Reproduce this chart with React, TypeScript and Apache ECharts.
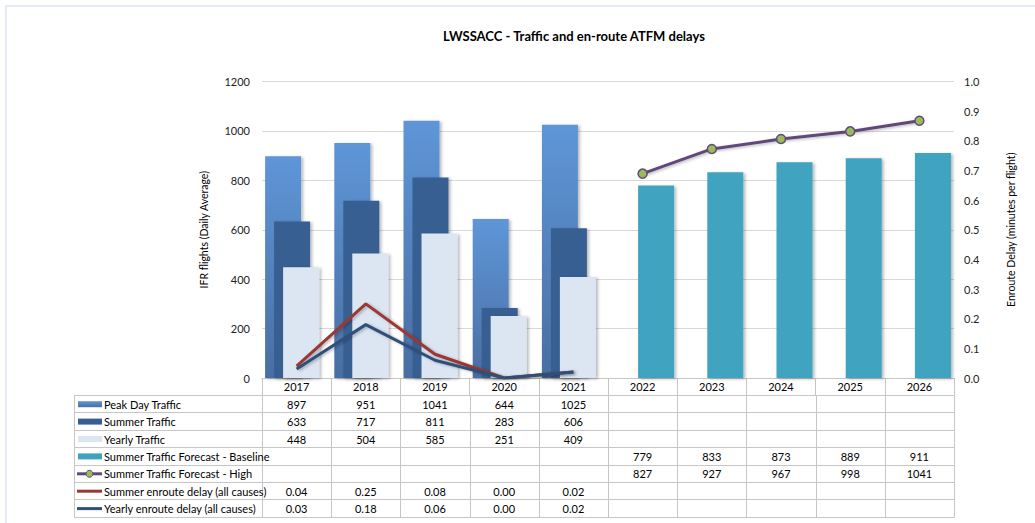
import React, { useEffect, useRef } from "react";
import * as echarts from "echarts";

const years = ["2017", "2018", "2019", "2020", "2021", "2022", "2023", "2024", "2025", "2026"];
const peakDay = [897, 951, 1041, 644, 1025, null, null, null, null, null];
const summerTraffic = [633, 717, 811, 283, 606, null, null, null, null, null];
const yearlyTraffic = [448, 504, 585, 251, 409, null, null, null, null, null];
const forecastBaseline = [null, null, null, null, null, 779, 833, 873, 889, 911];
const forecastHigh = [null, null, null, null, null, 827, 927, 967, 998, 1041];
const summerDelay = [0.04, 0.25, 0.08, 0.0, 0.02, null, null, null, null, null];
const yearlyDelay = [0.03, 0.18, 0.06, 0.0, 0.02, null, null, null, null, null];
const leftTicks = { min: 0, max: 1200, interval: 200 };
const rightTicks = { min: 0, max: 1, interval: 0.1 };

const FONT = "Lato, 'Liberation Sans', sans-serif";
const GRID_LEFT = 262;
const GRID_RIGHT = 81;
const GRID_TOP = 81.5;
const GRID_BOTTOM = 145;
const W = 1035;
const H = 523;
const TABLE_LEFT = 74;
const ROW_H = 17.4;
const HEADER_H = 17;
const LINE_COLOR = "#c6c6c6";

const C_PEAK_TOP = "#5e96d8";
const C_PEAK_BOT = "#4a6ea2";
const C_SUMMER = "#375f92";
const C_YEARLY = "#dce6f2";
const C_BASE = "#3fa3bf";
const C_HIGH = "#60497a";
const C_HIGH_DOT = "#9bbb59";
const C_SDELAY = "#9b3733";
const C_YDELAY = "#2f5079";

const shadow = {
  shadowColor: "rgba(0,0,0,0.28)",
  shadowBlur: 3,
  shadowOffsetX: 2,
  shadowOffsetY: 1,
};

export default function App() {
  const ref = useRef<HTMLDivElement>(null);
  useEffect(() => {
    document.body.style.margin = "0";
    if (!ref.current) return;
    const chart = echarts.init(ref.current, null, { renderer: "svg" });
    const peakGrad = new echarts.graphic.LinearGradient(0, 0, 0, 1, [
      { offset: 0, color: C_PEAK_TOP },
      { offset: 1, color: C_PEAK_BOT },
    ]);
    const barCommon = { type: "bar", barWidth: 36, barGap: "-75%", yAxisIndex: 0 };
    const option: any = {
      animation: false,
      title: {
        text: "LWSSACC - Traffic and en-route ATFM delays",
        left: 569,
        top: 24,
        textAlign: "center",
        textStyle: { fontFamily: FONT, fontSize: 13, fontWeight: "bold", color: "#000" },
      },
      grid: { left: GRID_LEFT, right: GRID_RIGHT, top: GRID_TOP, bottom: GRID_BOTTOM },
      xAxis: {
        type: "category",
        data: years,
        axisLine: { show: true, lineStyle: { color: LINE_COLOR, width: 1 } },
        axisTick: { show: true, length: HEADER_H, lineStyle: { color: LINE_COLOR } },
        axisLabel: { margin: 3, fontFamily: FONT, fontSize: 11, color: "#000" },
      },
      yAxis: [
        {
          type: "value",
          ...leftTicks,
          name: "IFR flights (Daily Average)",
          nameLocation: "middle",
          nameGap: 53,
          nameTextStyle: { fontFamily: FONT, fontSize: 10.5, color: "#000" },
          axisLine: { show: false },
          axisTick: { show: false },
          axisLabel: {
            margin: 12,
            fontFamily: FONT,
            fontSize: 11,
            color: "#222",
            formatter: (v: number) => String(v),
          },
          splitLine: { lineStyle: { color: "#d9d9d9", width: 1 } },
        },
        {
          type: "value",
          ...rightTicks,
          position: "right",
          name: "Enroute Delay (minutes per flight)",
          nameLocation: "middle",
          nameGap: 51,
          nameTextStyle: { fontFamily: FONT, fontSize: 10.5, color: "#000" },
          axisLine: { show: false },
          axisTick: { show: false },
          axisLabel: {
            margin: 10,
            fontFamily: FONT,
            fontSize: 11,
            color: "#222",
            formatter: (v: number) => v.toFixed(1),
          },
          splitLine: { show: false },
        },
      ],
      series: [
        { ...barCommon, name: "Peak Day Traffic", data: peakDay, itemStyle: { color: peakGrad, ...shadow } },
        { ...barCommon, name: "Summer Traffic", data: summerTraffic, itemStyle: { color: C_SUMMER, ...shadow } },
        { ...barCommon, name: "Yearly Traffic", data: yearlyTraffic, itemStyle: { color: C_YEARLY, ...shadow } },
        {
          ...barCommon,
          name: "Summer Traffic Forecast - Baseline",
          data: forecastBaseline,
          itemStyle: { color: C_BASE, ...shadow },
        },
        {
          type: "line",
          name: "Summer Traffic Forecast - High",
          yAxisIndex: 0,
          data: forecastHigh,
          symbol: "circle",
          symbolSize: 9,
          lineStyle: { color: C_HIGH, width: 3, ...shadow },
          itemStyle: { color: C_HIGH_DOT, borderColor: C_HIGH, borderWidth: 1.5 },
          z: 5,
        },
        {
          type: "line",
          name: "Summer enroute delay (all causes)",
          yAxisIndex: 1,
          data: summerDelay,
          showSymbol: false,
          symbol: "none",
          lineStyle: { color: C_SDELAY, width: 3, ...shadow },
          z: 5,
        },
        {
          type: "line",
          name: "Yearly enroute delay (all causes)",
          yAxisIndex: 1,
          data: yearlyDelay,
          showSymbol: false,
          symbol: "none",
          lineStyle: { color: C_YDELAY, width: 3, ...shadow },
          z: 6,
        },
      ],
    };
    chart.setOption(option);

    // Data table below the chart, built from the same arrays
    const fmtInt = (v: number | null) => (v == null ? "" : String(v));
    const fmtDec = (v: number | null) => (v == null ? "" : v.toFixed(2));
    const rows = [
      { label: "Peak Day Traffic", data: peakDay, fmt: fmtInt, key: "bar", color: peakGrad },
      { label: "Summer Traffic", data: summerTraffic, fmt: fmtInt, key: "bar", color: C_SUMMER },
      { label: "Yearly Traffic", data: yearlyTraffic, fmt: fmtInt, key: "bar", color: C_YEARLY },
      { label: "Summer Traffic Forecast - Baseline", data: forecastBaseline, fmt: fmtInt, key: "bar", color: C_BASE },
      { label: "Summer Traffic Forecast - High", data: forecastHigh, fmt: fmtInt, key: "dot", color: C_HIGH },
      { label: "Summer enroute delay (all causes)", data: summerDelay, fmt: fmtDec, key: "line", color: C_SDELAY },
      { label: "Yearly enroute delay (all causes)", data: yearlyDelay, fmt: fmtDec, key: "line", color: C_YDELAY },
    ];
    const centers = years.map((_, i) => chart.convertToPixel({ xAxisIndex: 0 }, i) as number);
    const axisY = chart.convertToPixel({ yAxisIndex: 0 }, 0) as number;
    const band = centers.length > 1 ? centers[1] - centers[0] : 60;
    const tableRight = W - GRID_RIGHT;
    const top = axisY + HEADER_H;
    const els: any[] = [];
    // outer chart border
    els.push({
      type: "rect",
      shape: { x: 6, y: 6, width: W + 10, height: H + 10 },
      style: { fill: "none", stroke: "#dbe5f1", lineWidth: 1.5 },
      silent: true,
    });
    for (let r = 0; r <= rows.length; r++) {
      const y = Math.round(top + r * ROW_H) + 0.5;
      els.push({
        type: "line",
        shape: { x1: TABLE_LEFT, y1: y, x2: tableRight, y2: y },
        style: { stroke: LINE_COLOR, lineWidth: 1 },
        silent: true,
      });
    }
    const bottomY = Math.round(top + rows.length * ROW_H) + 0.5;
    const vx = [TABLE_LEFT, ...years.map((_, i) => centers[i] - band / 2), tableRight];
    vx.forEach((x) => {
      const xx = Math.round(x) + 0.5;
      els.push({
        type: "line",
        shape: { x1: xx, y1: Math.round(top) + 0.5, x2: xx, y2: bottomY },
        style: { stroke: LINE_COLOR, lineWidth: 1 },
        silent: true,
      });
    });
    rows.forEach((row, r) => {
      const cy = top + r * ROW_H + ROW_H / 2 + 0.5;
      if (row.key === "bar") {
        els.push({
          type: "rect",
          shape: { x: 78, y: cy - 3, width: 24, height: 6 },
          style: { fill: row.color },
          silent: true,
        });
      } else {
        els.push({
          type: "line",
          shape: { x1: 77, y1: cy, x2: 102, y2: cy },
          style: { stroke: row.color, lineWidth: 3 },
          silent: true,
        });
        if (row.key === "dot") {
          els.push({
            type: "circle",
            shape: { cx: 89.5, cy, r: 3.5 },
            style: { fill: C_HIGH_DOT, stroke: C_HIGH, lineWidth: 1 },
            silent: true,
          });
        }
      }
      els.push({
        type: "text",
        x: 104,
        y: cy,
        style: {
          text: row.label,
          font: `11px ${FONT}`,
          fill: "#000",
          textVerticalAlign: "middle",
          verticalAlign: "middle",
        },
        silent: true,
      });
      row.data.forEach((v: number | null, i: number) => {
        const t = row.fmt(v);
        if (!t) return;
        els.push({
          type: "text",
          x: centers[i],
          y: cy,
          style: {
            text: t,
            font: `11px ${FONT}`,
            fill: "#000",
            align: "center",
            textAlign: "center",
            verticalAlign: "middle",
            textVerticalAlign: "middle",
          },
          silent: true,
        });
      });
    });
    chart.setOption({ graphic: { elements: els } });
    return () => chart.dispose();
  }, []);
  return <div ref={ref} style={{ width: W, height: H }} />;
}
